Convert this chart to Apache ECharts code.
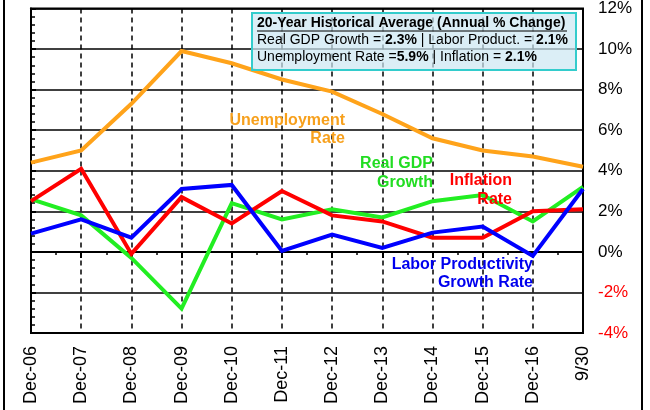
<!DOCTYPE html>
<html>
<head>
<meta charset="utf-8">
<script src="https://cdn.jsdelivr.net/npm/echarts@6/dist/echarts.min.js"></script>
<style>
  html, body { margin: 0; padding: 0; background: #fff; }
  #chart { width: 650px; height: 410px; }
</style>
</head>
<body>
<div id="chart"></div>
<script>
// x axis categories
const categories = ['Dec-06', 'Dec-07', 'Dec-08', 'Dec-09', 'Dec-10', 'Dec-11',
  'Dec-12', 'Dec-13', 'Dec-14', 'Dec-15', 'Dec-16', '9/30']

// annual % change
const unemployment = [4.4, 5.0, 7.3, 9.9, 9.3, 8.5, 7.9, 6.8, 5.6, 5.0, 4.7, 4.2]
const realGdp = [2.6, 1.8, -0.3, -2.8, 2.4, 1.6, 2.1, 1.7, 2.5, 2.8, 1.5, 3.2]
const inflation = [2.5, 4.1, -0.1, 2.7, 1.4, 3.0, 1.8, 1.5, 0.7, 0.7, 2.0, 2.1]
const laborProd = [0.9, 1.6, 0.7, 3.1, 3.3, 0.05, 0.85, 0.2, 0.95, 1.25, -0.2, 3.1]

// right axis ticks
const yMin = -4
const yMax = 12
const yStep = 2

const FONT = 'Liberation Sans, Arial, sans-serif'

function toPoints (arr) {
  return arr.map((v, i) => [i, v])
}

function lineSeries (name, values, color) {
  return {
    name: name,
    type: 'line',
    data: toPoints(values),
    symbol: 'none',
    lineStyle: { color: color, width: 4, join: 'miter' },
    silent: true
  }
}

// right-aligned bold note next to a line
function note (text, x, y, color, lh) {
  return {
    type: 'text', x: x, y: y, z: 5,
    style: { text: text, fill: color, font: 'bold 16px ' + FONT, align: 'right', verticalAlign: 'top', lineHeight: lh }
  }
}

const chart = echarts.init(document.getElementById('chart'))

const option = {
  animation: false,
  textStyle: { fontFamily: FONT },
  grid: {
    left: 31, right: 67, top: 8, bottom: 77,
    show: true, borderColor: '#000', borderWidth: 2, backgroundColor: 'transparent'
  },
  xAxis: {
    type: 'value',
    min: 0,
    max: categories.length - 1,
    interval: 1,
    axisLine: { show: true, lineStyle: { color: '#000', width: 2 } },
    axisTick: { show: true, length: 6, lineStyle: { color: '#000', width: 2 } },
    minorTick: { show: true, splitNumber: 2, length: 3, lineStyle: { color: '#000', width: 1.5 } },
    axisLabel: {
      rotate: 90,
      margin: 13,
      fontSize: 18,
      color: '#000',
      fontFamily: FONT,
      formatter: v => categories[v] || ''
    },
    splitLine: { show: true, lineStyle: { color: '#000', width: 1.5, type: [5, 4] } }
  },
  yAxis: {
    type: 'value',
    position: 'right',
    min: yMin,
    max: yMax,
    interval: yStep,
    axisLine: { show: true, lineStyle: { color: '#000', width: 2 } },
    axisTick: { show: true, length: 5, lineStyle: { color: '#000', width: 2 } },
    minorTick: { show: true, splitNumber: 5, length: 4, lineStyle: { color: '#000', width: 1.5 } },
    axisLabel: {
      margin: 15,
      fontSize: 17,
      fontFamily: FONT,
      formatter: v => v + '%',
      color: v => (Number(v) < 0 ? '#ff0000' : '#000')
    },
    splitLine: { show: true, lineStyle: { color: '#000', width: 1.5 } }
  },
  series: [
    lineSeries('Unemployment Rate', unemployment, '#ffa31a'),
    lineSeries('Real GDP Growth', realGdp, '#22ee22'),
    lineSeries('Inflation Rate', inflation, '#ff0000'),
    lineSeries('Labor Productivity Growth Rate', laborProd, '#0000ff')
  ],
  graphic: [
    // outer frame lines
    { type: 'line', shape: { x1: 4, y1: 0, x2: 4, y2: 410 }, style: { stroke: '#000', lineWidth: 2 } },
    { type: 'line', shape: { x1: 642, y1: 0, x2: 642, y2: 410 }, style: { stroke: '#000', lineWidth: 2 } },
    // series annotations
    note('Unemployment\nRate', 345, 112, '#f7a01c', 18),
    note('Real GDP\nGrowth', 433, 154, '#22dd22', 19),
    note('Inflation\nRate', 512, 171, '#ff0000', 19),
    note('Labor Productivity\nGrowth Rate', 533, 256, '#0000ee', 18),
    // historical average box
    {
      type: 'rect', shape: { x: 252, y: 13, width: 324, height: 57 },
      style: { fill: 'rgba(205,232,242,0.72)', stroke: '#33cccc', lineWidth: 2 },
      z: 10
    },
    {
      type: 'text', x: 257, y: 16, z: 11,
      style: { text: '20-Year Historical Average (Annual % Change)', fill: '#000', font: 'bold 14px ' + FONT }
    },
    { type: 'line', shape: { x1: 257, y1: 31, x2: 567, y2: 31 }, style: { stroke: '#000', lineWidth: 1 }, z: 11 },
    {
      type: 'text', x: 257, y: 33, z: 11,
      style: {
        text: '{n|Real GDP Growth = }{b|2.3%}{n| | Labor Product. = }{b|2.1%}',
        rich: {
          n: { font: '14px ' + FONT, fill: '#000' },
          b: { font: 'bold 14px ' + FONT, fill: '#000' }
        }
      }
    },
    {
      type: 'text', x: 257, y: 50, z: 11,
      style: {
        text: '{n|Unemployment Rate =}{b|5.9%}{n| | Inflation = }{b|2.1%}',
        rich: {
          n: { font: '14px ' + FONT, fill: '#000' },
          b: { font: 'bold 14px ' + FONT, fill: '#000' }
        }
      }
    }
  ]
}

chart.setOption(option)
</script>
</body>
</html>
